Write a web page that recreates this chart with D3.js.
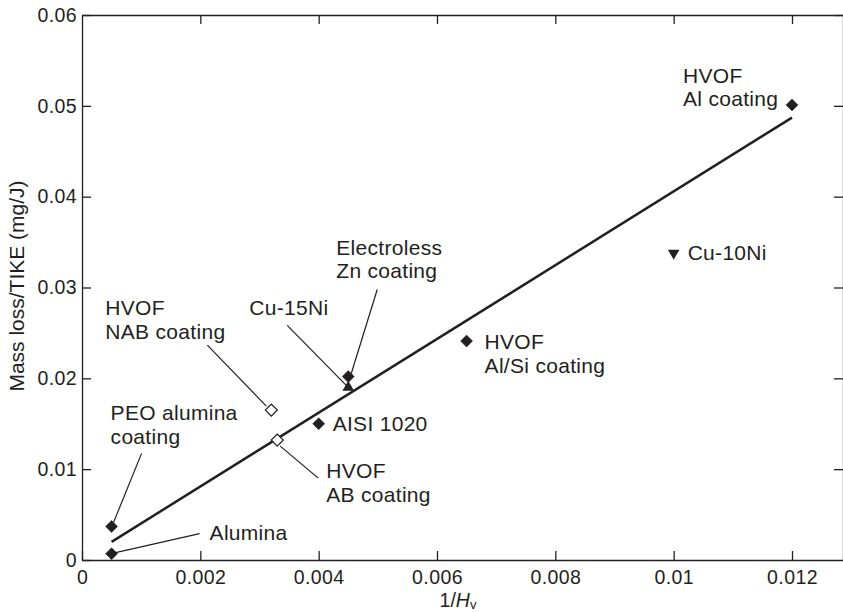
<!DOCTYPE html>
<html lang="en">
<head>
<meta charset="utf-8">
<title>Mass loss/TIKE vs 1/Hv</title>
<script src="https://d3js.org/d3.v7.min.js"></script>
<style>
  body { margin: 0; background: #fff; }
  svg { display: block; font-family: "Liberation Sans", Arial, sans-serif; }
  .axis path, .axis line { stroke: #231f20; stroke-width: 1.3; }
  .axis text { font-size: 19.5px; fill: #231f20; letter-spacing: 0.4px; }
  .lbl { font-size: 21px; fill: #231f20; letter-spacing: 0.3px; }
  .title { font-size: 21px; fill: #231f20; }
</style>
</head>
<body>
<svg id="chart" width="843" height="612"></svg>
<script>
// values
var names = ["Alumina", "PEO alumina coating", "HVOF NAB coating", "HVOF AB coating",
             "AISI 1020", "Electroless Zn coating", "Cu-15Ni", "HVOF Al/Si coating",
             "Cu-10Ni", "HVOF Al coating"];
var invHv    = [0.0005, 0.0005, 0.0032, 0.0033, 0.0040, 0.0045, 0.0045, 0.0065, 0.0100, 0.0120];
var massLoss = [0.0007, 0.0037, 0.0165, 0.0132, 0.0150, 0.0202, 0.0190, 0.0241, 0.0338, 0.0501];
var markers  = ["diamond", "diamond", "open", "open", "diamond", "diamond", "up", "diamond", "down", "diamond"];

// fitted line end points
var fitX = [0.0005, 0.0120];
var fitY = [0.0020, 0.0487];

var xTicks = [0, 0.002, 0.004, 0.006, 0.008, 0.01, 0.012];
var yTicks = [0, 0.01, 0.02, 0.03, 0.04, 0.05, 0.06];

// label layout: text lines, text offset from the point, leader line offsets (or null)
var labelLayout = [
  { lines: ["Alumina"], tx: 98, ty: -14, lead: [88, -20, 4, -1] },
  { lines: ["PEO alumina", "coating"], tx: -1, ty: -106, lead: [30, -73, 2, -4] },
  { lines: ["HVOF", "NAB coating"], tx: -166, ty: -95, lead: [-64, -65, -5, -4] },
  { lines: ["HVOF", "AB coating"], tx: 49, ty: 38, lead: [41, 38, 3, 6] },
  { lines: ["AISI 1020"], tx: 14, ty: 7, lead: null },
  { lines: ["Electroless", "Zn coating"], tx: -12, ty: -122, lead: [29, -87, 3, -3] },
  { lines: ["Cu-15Ni"], tx: -99, ty: -72, lead: [-61, -62, -2, -2] },
  { lines: ["HVOF", "Al/Si coating"], tx: 18, ty: 8, lead: null },
  { lines: ["Cu-10Ni"], tx: 14, ty: 7, lead: null },
  { lines: ["HVOF", "Al coating"], tx: -109, ty: -22, lead: null }
];

var margin = {left: 82, top: 15};
var plotW = 761, plotH = 545;
var ink = "#231f20";

var svg = d3.select("#chart");
var g = svg.append("g").attr("transform", "translate(" + margin.left + "," + margin.top + ")");

var x = d3.scaleLinear().domain([0, 0.012]).range([0, 710]);
var y = d3.scaleLinear().domain([0, 0.06]).range([plotH, 0]);

function fmt(d) { return String(+d.toFixed(4)); }

// axes with inward ticks
g.append("g").attr("class", "axis")
  .attr("transform", "translate(0," + plotH + ")")
  .call(d3.axisBottom(x).tickValues(xTicks).tickFormat(fmt).tickSizeInner(-9).tickSizeOuter(0).tickPadding(10))
  .call(function(a) { a.select(".domain").attr("d", "M0,0.5H" + plotW); });

g.append("g").attr("class", "axis")
  .call(d3.axisTop(x).tickValues(xTicks.slice(1)).tickFormat("").tickSizeInner(-9).tickSizeOuter(0))
  .call(function(a) { a.select(".domain").attr("d", "M0,0.5H" + plotW); });

g.append("g").attr("class", "axis")
  .call(d3.axisLeft(y).tickValues(yTicks).tickFormat(fmt).tickSizeInner(-9).tickSizeOuter(0).tickPadding(5));

g.append("g").attr("class", "axis")
  .attr("transform", "translate(" + plotW + ",0)")
  .call(d3.axisRight(y).tickValues(yTicks.slice(1)).tickFormat("").tickSizeInner(-9).tickSizeOuter(0));

// axis titles
svg.append("text").attr("class", "title")
  .attr("transform", "translate(24," + (margin.top + 271) + ") rotate(-90)")
  .attr("text-anchor", "middle")
  .text("Mass loss/TIKE (mg/J)");

var xt = svg.append("text").attr("class", "title")
  .attr("x", 458).attr("y", 607).attr("text-anchor", "middle")
  .style("font-size", "19.5px");
xt.append("tspan").text("1/");
xt.append("tspan").attr("font-style", "italic").text("H");
xt.append("tspan").attr("font-size", "13px").attr("dy", 2).text("v");

// fitted line
g.append("line")
  .attr("x1", x(fitX[0])).attr("y1", y(fitY[0]))
  .attr("x2", x(fitX[1])).attr("y2", y(fitY[1]))
  .attr("stroke", ink).attr("stroke-width", 2.5);

// points
var pts = names.map(function(n, i) {
  return { name: n, px: x(invHv[i]), py: y(massLoss[i]), m: markers[i], lay: labelLayout[i] };
});

var sq = d3.symbol().type(d3.symbolSquare).size(72);
var tri = d3.symbol().type(d3.symbolTriangle).size(58);

pts.forEach(function(p) {
  var path = g.append("path");
  if (p.m === "diamond" || p.m === "open") {
    path.attr("d", sq())
      .attr("transform", "translate(" + p.px + "," + p.py + ") rotate(45)")
      .attr("fill", p.m === "open" ? "#fff" : ink)
      .attr("stroke", ink).attr("stroke-width", p.m === "open" ? 1.2 : 0.5);
  } else {
    path.attr("d", tri())
      .attr("transform", "translate(" + p.px + "," + p.py + ")" + (p.m === "down" ? " rotate(180)" : ""))
      .attr("fill", ink);
  }

  var L = p.lay;
  if (L.lead) {
    g.append("line")
      .attr("x1", p.px + L.lead[0]).attr("y1", p.py + L.lead[1])
      .attr("x2", p.px + L.lead[2]).attr("y2", p.py + L.lead[3])
      .attr("stroke", ink).attr("stroke-width", 1.2);
  }
  var t = g.append("text").attr("class", "lbl")
    .attr("x", p.px + L.tx).attr("y", p.py + L.ty);
  L.lines.forEach(function(s, k) {
    t.append("tspan").attr("x", p.px + L.tx).attr("dy", k === 0 ? 0 : 23.5).text(s);
  });
});
</script>
</body>
</html>
